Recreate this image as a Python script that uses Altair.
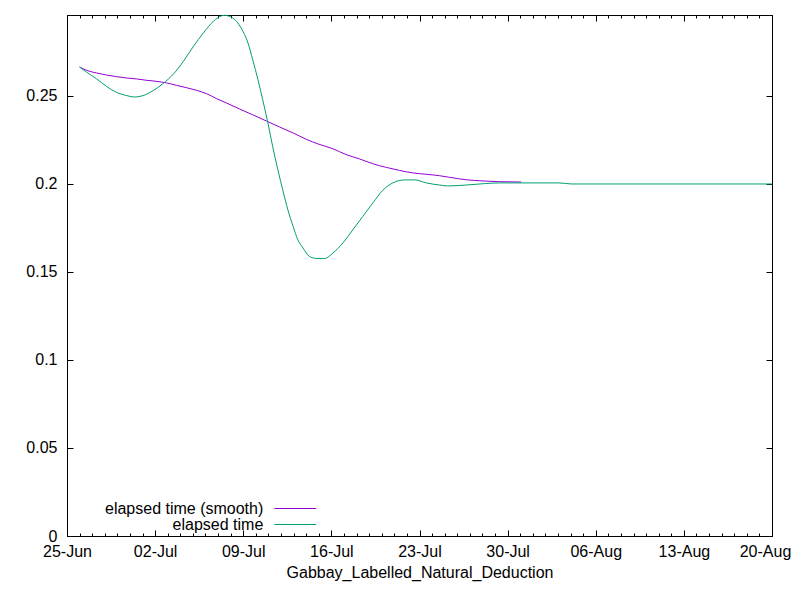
import altair as alt
import pandas as pd

SMOOTH = "elapsed time (smooth)"
RAW = "elapsed time"

smooth_times = [
    "2019-06-26T00:00Z", "2019-06-26T13:00Z", "2019-06-27T08:00Z", "2019-06-28T03:00Z",
    "2019-06-28T22:00Z", "2019-06-29T18:00Z", "2019-06-30T12:00Z", "2019-07-01T08:00Z",
    "2019-07-02T03:00Z", "2019-07-02T22:00Z", "2019-07-03T17:00Z", "2019-07-04T12:00Z",
    "2019-07-05T07:00Z", "2019-07-06T02:00Z", "2019-07-06T21:00Z", "2019-07-07T16:00Z",
    "2019-07-08T17:00Z", "2019-07-09T18:00Z", "2019-07-10T20:00Z", "2019-07-11T21:00Z",
    "2019-07-12T23:00Z", "2019-07-14T00:00Z", "2019-07-15T00:00Z", "2019-07-16T03:00Z",
    "2019-07-17T04:00Z", "2019-07-18T06:00Z", "2019-07-19T07:00Z", "2019-07-20T09:00Z",
    "2019-07-21T10:00Z", "2019-07-22T11:00Z", "2019-07-23T13:00Z", "2019-07-24T14:00Z",
    "2019-07-25T09:00Z", "2019-07-26T17:00Z", "2019-07-28T01:00Z", "2019-07-29T06:00Z",
    "2019-07-31T02:00Z",
]
smooth_values = [
    0.2665, 0.2646, 0.2631, 0.2619,
    0.2610, 0.2602, 0.2597, 0.2589,
    0.2583, 0.2574, 0.2560, 0.2547,
    0.2532, 0.2513, 0.2485, 0.2460,
    0.2426, 0.2393, 0.2358, 0.2324,
    0.2290, 0.2254, 0.2226, 0.2200,
    0.2167, 0.2142, 0.2115, 0.2094,
    0.2077, 0.2063, 0.2055, 0.2047,
    0.2038, 0.2024, 0.2017, 0.2013,
    0.2011,
]

raw_times = [
    "2019-06-26T00:00Z", "2019-06-26T13:00Z", "2019-06-27T08:00Z", "2019-06-28T03:00Z",
    "2019-06-28T22:00Z", "2019-06-29T18:00Z", "2019-06-30T09:00Z", "2019-07-01T01:00Z",
    "2019-07-01T20:00Z", "2019-07-02T15:00Z", "2019-07-03T11:00Z", "2019-07-04T06:00Z",
    "2019-07-05T01:00Z", "2019-07-05T20:00Z", "2019-07-06T15:00Z", "2019-07-07T07:00Z",
    "2019-07-07T12:00Z", "2019-07-08T04:00Z", "2019-07-08T20:00Z", "2019-07-09T09:00Z",
    "2019-07-09T18:00Z", "2019-07-10T04:00Z", "2019-07-10T13:00Z", "2019-07-10T23:00Z",
    "2019-07-11T08:00Z", "2019-07-11T18:00Z", "2019-07-12T04:00Z", "2019-07-12T13:00Z",
    "2019-07-12T23:00Z", "2019-07-13T08:00Z", "2019-07-13T18:00Z", "2019-07-14T06:00Z",
    "2019-07-14T19:00Z", "2019-07-15T11:00Z", "2019-07-16T03:00Z", "2019-07-16T22:00Z",
    "2019-07-17T17:00Z", "2019-07-18T12:00Z", "2019-07-19T07:00Z", "2019-07-20T02:00Z",
    "2019-07-20T21:00Z", "2019-07-21T20:00Z", "2019-07-22T15:00Z", "2019-07-23T13:00Z",
    "2019-07-24T14:00Z", "2019-07-25T06:00Z", "2019-07-26T17:00Z", "2019-07-28T04:00Z",
    "2019-07-29T09:00Z", "2019-08-03T02:00Z", "2019-08-04T02:00Z", "2019-08-20T00:00Z",
]
raw_values = [
    0.2665, 0.2636, 0.2598, 0.2555,
    0.2521, 0.2502, 0.2494, 0.2502,
    0.2530, 0.2570, 0.2625, 0.2697,
    0.2782, 0.2858, 0.2924, 0.2956,
    0.2958, 0.2943, 0.2886, 0.2801,
    0.2706, 0.2593, 0.2479, 0.2347,
    0.2214, 0.2081, 0.1958, 0.1854,
    0.1759, 0.1684, 0.1636, 0.1589,
    0.1577, 0.1576, 0.1608, 0.1665,
    0.1740, 0.1816, 0.1892, 0.1964,
    0.2006, 0.2023, 0.2023, 0.2006,
    0.1994, 0.1989, 0.1994, 0.2002,
    0.2006, 0.2006, 0.2000, 0.2000,
]

x_major_dates = ["2019-06-25", "2019-07-02", "2019-07-09", "2019-07-16", "2019-07-23",
                 "2019-07-30", "2019-08-06", "2019-08-13", "2019-08-20"]
x_domain_dates = ["2019-06-25", "2019-08-20"]
y_ticks = [0, 0.05, 0.1, 0.15, 0.2, 0.25]
y_domain = [0, 0.296]


def ms(s):
    return int(pd.Timestamp(s, tz="UTC").value // 10**6)


x_major = [ms(d) for d in x_major_dates]
x_minor = [ms(d) for d in pd.date_range(x_domain_dates[0], x_domain_dates[1], freq="D").strftime("%Y-%m-%d")]

W, H = 705, 521

df = pd.DataFrame({
    "t": smooth_times + raw_times,
    "v": smooth_values + raw_values,
    "series": [SMOOTH] * len(smooth_times) + [RAW] * len(raw_times),
})

xscale = alt.Scale(type="utc", domain=[ms(d) for d in x_domain_dates])
yscale = alt.Scale(domain=y_domain, nice=False, zero=False)

lines = alt.Chart(df).mark_line(strokeWidth=1, interpolate="monotone").encode(
    x=alt.X("t:T", scale=xscale, axis=alt.Axis(
        orient="bottom", values=x_major[:-1], format="%d-%b", ticks=False, tickSize=0,
        domain=False, labelPadding=7, labelFlush=False, labelOverlap=False,
        title="Gabbay_Labelled_Natural_Deduction", titleY=41, titleBaseline="alphabetic")),
    y=alt.Y("v:Q", scale=yscale, axis=alt.Axis(
        orient="left", values=y_ticks, format="~g", ticks=False, tickSize=0,
        domain=False, labelPadding=10, labelFlush=False, labelOverlap=False, title=None)),
    color=alt.Color("series:N", sort=[SMOOTH, RAW],
                    scale=alt.Scale(domain=[SMOOTH, RAW], range=["#9400d3", "#009e73"]),
                    legend=alt.Legend(
                        title=None, orient="none", legendX=220.3, legendY=485.5,
                        direction="vertical", symbolType="M-4,0H4", symbolSize=110.25,
                        symbolStrokeWidth=1, labelAlign="right",
                        labelOffset=alt.ExprRef(expr="-40"),
                        rowPadding=alt.ExprRef(expr="-1.33"),
                        labelFontSize=16, labelFont="Liberation Sans", labelColor="black",
                        labelLimit=400, padding=0)),
)


def tick_axis(orient, values, size, offset):
    return alt.Axis(orient=orient, values=values, tickSize=size, offset=offset,
                    labels=False, domain=False, grid=False, title=None,
                    tickColor="black", tickWidth=1)


def tick_layer(xaxis, yaxis):
    return alt.Chart(df).mark_point(opacity=0).encode(
        x=alt.X("t:T", scale=xscale, axis=xaxis),
        y=alt.Y("v:Q", scale=yscale, axis=yaxis),
    )


# last date label, nudged left so that it stays inside the page
last_label_axis = alt.Axis(
    orient="bottom", values=x_major[-1:], format="%d-%b", ticks=False, tickSize=0,
    domain=False, grid=False, labelPadding=7, labelFlush=False, labelOverlap=False,
    labelOffset=alt.ExprRef(expr="-7"), title=None)

layers = [
    lines,
    tick_layer(tick_axis("top", x_major, 6, -H), tick_axis("right", y_ticks, 6, -W)),
    tick_layer(tick_axis("bottom", x_major, 6, -H), tick_axis("left", y_ticks, 6, -W)),
    tick_layer(tick_axis("top", x_minor, 3, -H), None),
    tick_layer(tick_axis("bottom", x_minor, 3, -H), None),
    tick_layer(last_label_axis, None),
]

chart = alt.layer(*layers).resolve_axis(
    x="independent", y="independent"
).properties(
    width=W, height=H,
    autosize=alt.AutoSizeParams(type="none"),
    padding={"left": 59, "top": 7, "right": 20, "bottom": 50},
).configure_view(
    stroke="black", strokeWidth=1
).configure_axis(
    grid=False, labelFont="Liberation Sans", labelFontSize=16, labelColor="black",
    titleFont="Liberation Sans", titleFontSize=16, titleFontWeight="normal",
    titleColor="black", tickColor="black"
)

chart.save("out.html", embed_options={"renderer": "svg", "actions": False})
